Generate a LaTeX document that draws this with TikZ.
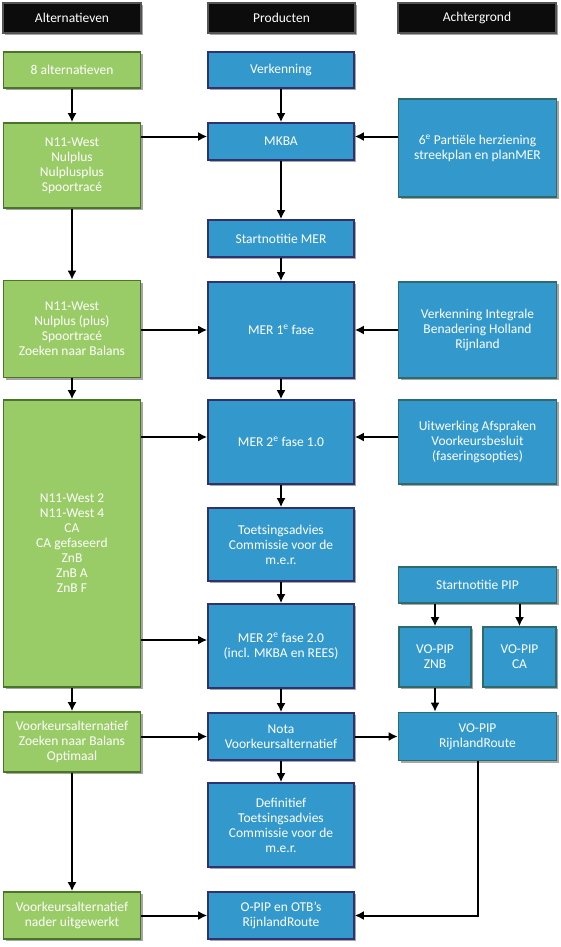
\documentclass[tikz,border=0pt]{standalone}
\usepackage{fontspec}
\setmainfont{Carlito}
\usetikzlibrary{arrows.meta,shadows}

\definecolor{groen}{HTML}{99CC66}
\definecolor{groenrand}{HTML}{4A7428}
\definecolor{blauw}{HTML}{3399CC}
\definecolor{productrand}{HTML}{2E3270}
\definecolor{achterrand}{HTML}{2F6A6C}
\definecolor{kopzwart}{HTML}{0C0C0C}
\definecolor{koprand}{HTML}{555555}
\definecolor{schaduw}{HTML}{A6A6A6}

\begin{document}
\begin{tikzpicture}[x=1pt, y=-1pt, font=\fontsize{13.5}{15}\selectfont,
        blok/.style={draw, line width=1.6pt, text=white, align=center, inner sep=2pt,
            drop shadow={shadow xshift=2pt, shadow yshift=-2pt, fill=schaduw, opacity=1}},
        kop/.style={blok, fill=kopzwart, draw=koprand, minimum height=30pt},
        alternatief/.style={blok, fill=groen, draw=groenrand, minimum width=137pt},
        product/.style={blok, fill=blauw, draw=productrand, minimum width=146pt},
        achtergrond/.style={blok, fill=blauw, draw=achterrand, minimum width=158pt},
        pijl/.style={-{Latex[length=9pt, width=9pt]}, line width=2pt}]
        \useasboundingbox (0, 0) rectangle (561, 947);

        % kolomkoppen
        \node[kop, minimum width=138pt] (KA) at (72, 18) {Alternatieven};
        \node[kop, minimum width=147pt] (KP) at (281.5, 18) {Producten};
        \node[kop, minimum width=158pt] (KB) at (477, 18) {Achtergrond};

        % alternatieven
        \node[alternatief, minimum height=36pt] (G1) at (72, 70) {8 alternatieven};
        \node[alternatief, minimum height=85pt] (G2) at (72, 165.5) {N11-West\\Nulplus\\Nulplusplus\\Spoortracé};
        \node[alternatief, minimum height=97pt] (G3) at (72, 329) {N11-West\\Nulplus (plus)\\Spoortracé\\Zoeken naar Balans};
        \node[alternatief, minimum height=287pt] (G4) at (72, 543.5) {N11-West 2\\N11-West 4\\CA\\CA gefaseerd\\ZnB\\ZnB A\\ZnB F};
        \node[alternatief, minimum height=60pt] (G5) at (72, 742) {Voorkeursalternatief\\Zoeken naar Balans\\Optimaal};
        \node[alternatief, minimum height=47pt] (G6) at (72, 915.5) {Voorkeursalternatief\\nader uitgewerkt};

        % producten
        \node[product, minimum height=36pt] (Verk) at (281, 70) {Verkenning};
        \node[product, minimum height=37pt] (MKBA) at (281, 141.5) {MKBA};
        \node[product, minimum height=37pt] (StartMER) at (281, 238.5) {Startnotitie MER};
        \node[product, minimum height=96pt] (MER1) at (281, 330) {MER 1\textsuperscript{e} fase};
        \node[product, minimum height=84pt] (MER21) at (281, 442) {MER 2\textsuperscript{e} fase 1.0};
        \node[product, minimum height=73pt] (Toets) at (281, 544.5) {Toetsingsadvies\\Commissie voor de\\m.e.r.};
        \node[product, minimum height=84pt] (MER22) at (281, 646) {MER 2\textsuperscript{e} fase 2.0\\(incl. MKBA en REES)};
        \node[product, minimum height=47pt] (Nota) at (281, 736.5) {Nota\\Voorkeursalternatief};
        \node[product, minimum height=84pt] (Def) at (281, 825) {Definitief\\Toetsingsadvies\\Commissie voor de\\m.e.r.};
        \node[product, minimum height=47pt] (OPIP) at (281, 915.5) {O-PIP en OTB's\\RijnlandRoute};

        % achtergrond
        \node[achtergrond, minimum height=98pt] (Part) at (477.5, 148) {6\textsuperscript{e} Partiële herziening\\streekplan en planMER};
        \node[achtergrond, minimum height=96pt] (VerkInt) at (477.5, 330) {Verkenning Integrale\\Benadering Holland\\Rijnland};
        \node[achtergrond, minimum height=84pt] (Uitw) at (477.5, 442) {Uitwerking Afspraken\\Voorkeursbesluit\\(faseringsopties)};
        \node[achtergrond, minimum height=36pt] (StartPIP) at (477.5, 585) {Startnotitie PIP};
        \node[achtergrond, minimum width=72pt, minimum height=60pt] (ZNB) at (435, 657) {VO-PIP\\ZNB};
        \node[achtergrond, minimum width=73pt, minimum height=60pt] (CA) at (519.5, 657) {VO-PIP\\CA};
        \node[achtergrond, minimum height=48pt] (RR) at (477.5, 736.5) {VO-PIP\\RijnlandRoute};

        % aansluitpunten iets boven het midden
        \coordinate (MKBAw) at ([yshift=5pt]MKBA.west);
        \coordinate (MKBAo) at ([yshift=5pt]MKBA.east);
        \coordinate (MER21w) at ([yshift=5pt]MER21.west);
        \coordinate (MER21o) at ([yshift=5pt]MER21.east);
        \coordinate (MER22w) at ([yshift=6pt]MER22.west);

        % pijlen alternatieven
        \draw[pijl] (G1) -- (G2);
        \draw[pijl] (G2) -- (G3);
        \draw[pijl] (G3) -- (G4);
        \draw[pijl] (G4) -- (G5);
        \draw[pijl] (G5) -- (G6);

        % pijlen producten
        \draw[pijl] (Verk) -- (MKBA);
        \draw[pijl] (MKBA) -- (StartMER);
        \draw[pijl] (StartMER) -- (MER1);
        \draw[pijl] (MER1) -- (MER21);
        \draw[pijl] (MER21) -- (Toets);
        \draw[pijl] (Toets) -- (MER22);
        \draw[pijl] (MER22) -- (Nota);
        \draw[pijl] (Nota) -- (Def);

        % pijlen naar rechts en links
        \draw[pijl] (G2.east |- MKBAw) -- (MKBAw);
        \draw[pijl] (Part.west |- MKBAo) -- (MKBAo);
        \draw[pijl] (G3.east |- MER1.west) -- (MER1.west);
        \draw[pijl] (VerkInt) -- (MER1);
        \draw[pijl] (G4.east |- MER21w) -- (MER21w);
        \draw[pijl] (Uitw.west |- MER21o) -- (MER21o);
        \draw[pijl] (G4.east |- MER22w) -- (MER22w);
        \draw[pijl] (G5.east |- Nota.west) -- (Nota.west);
        \draw[pijl] (Nota) -- (RR);
        \draw[pijl] (G6) -- (OPIP);

        % pijlen achtergrond
        \draw[pijl] (ZNB.north |- StartPIP.south) -- (ZNB.north);
        \draw[pijl] (CA.north |- StartPIP.south) -- (CA.north);
        \draw[pijl] (ZNB.south) -- (ZNB.south |- RR.north);
        \draw[pijl] (RR.south) |- (OPIP.east);
\end{tikzpicture}
\end{document}
